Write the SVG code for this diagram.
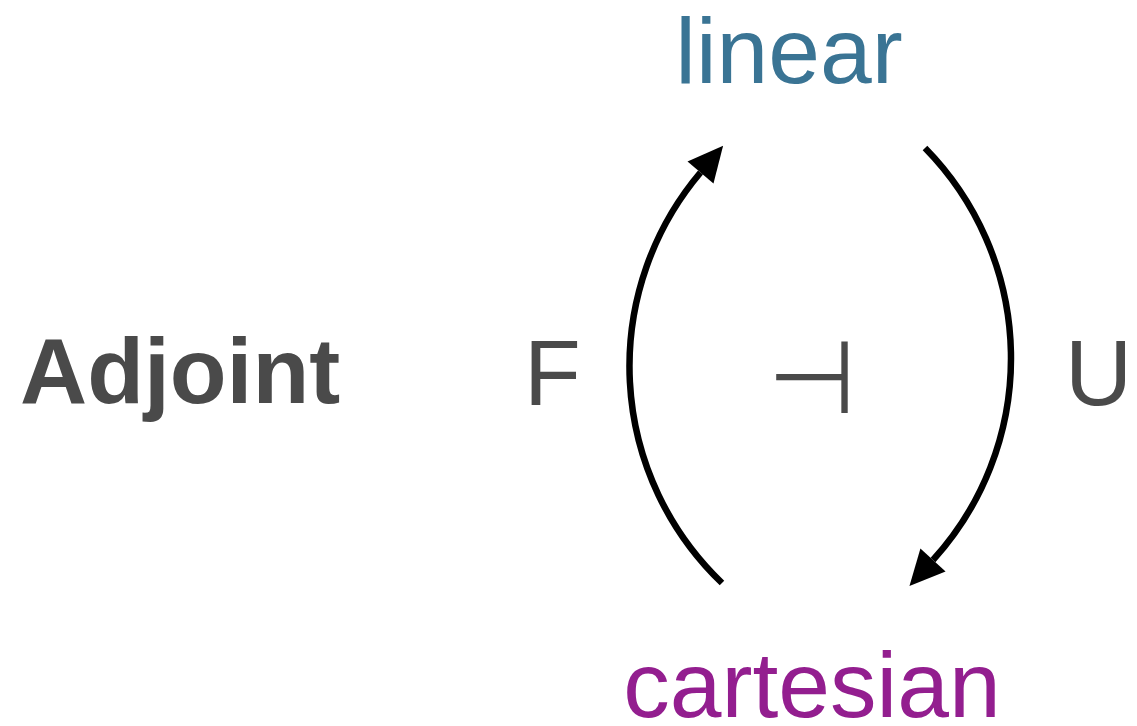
<svg xmlns="http://www.w3.org/2000/svg" width="1137" height="726" viewBox="0 0 1137 726">
<style>
.lbl{font-family:"Liberation Sans",Arial,sans-serif;font-size:93px}
.gray{fill:#4a4a4a}
.arc{fill:none;stroke:#000;stroke-width:6.5}
</style>
<defs>
<marker id="ah" markerUnits="userSpaceOnUse" markerWidth="40" markerHeight="40" viewBox="0 -20 36 40" refX="0" refY="0" orient="auto">
<path d="M0,-17 L35,0 L0,17 z" fill="#000"/>
</marker>
</defs>
<rect width="1137" height="726" fill="#fff"/>
<g id="title"><text class="lbl gray" x="20" y="403" font-weight="bold" font-size="95.5">Adjoint</text></g>
<g id="linear"><text class="lbl" x="789" y="83" text-anchor="middle" fill="#3a7494" font-size="94">linear</text></g>
<g id="cartesian"><text class="lbl" x="812" y="717" text-anchor="middle" fill="#931e8f" font-size="94">cartesian</text></g>
<g id="connectors">
<path id="F-arrow" class="arc" d="M722,583 A300,300 0 0 1 700.5,172.5" marker-end="url(#ah)"/>
<path id="U-arrow" class="arc" d="M925,148 A300,300 0 0 1 933,560" marker-end="url(#ah)"/>
</g>
<g id="labels">
<text class="lbl gray" x="524" y="405">F</text>
<text class="lbl gray" x="1065" y="405">U</text>
<text class="gray" x="812" y="413" text-anchor="middle" font-family="DejaVu Sans,sans-serif" font-size="102">⊣</text>
</g>
</svg>
